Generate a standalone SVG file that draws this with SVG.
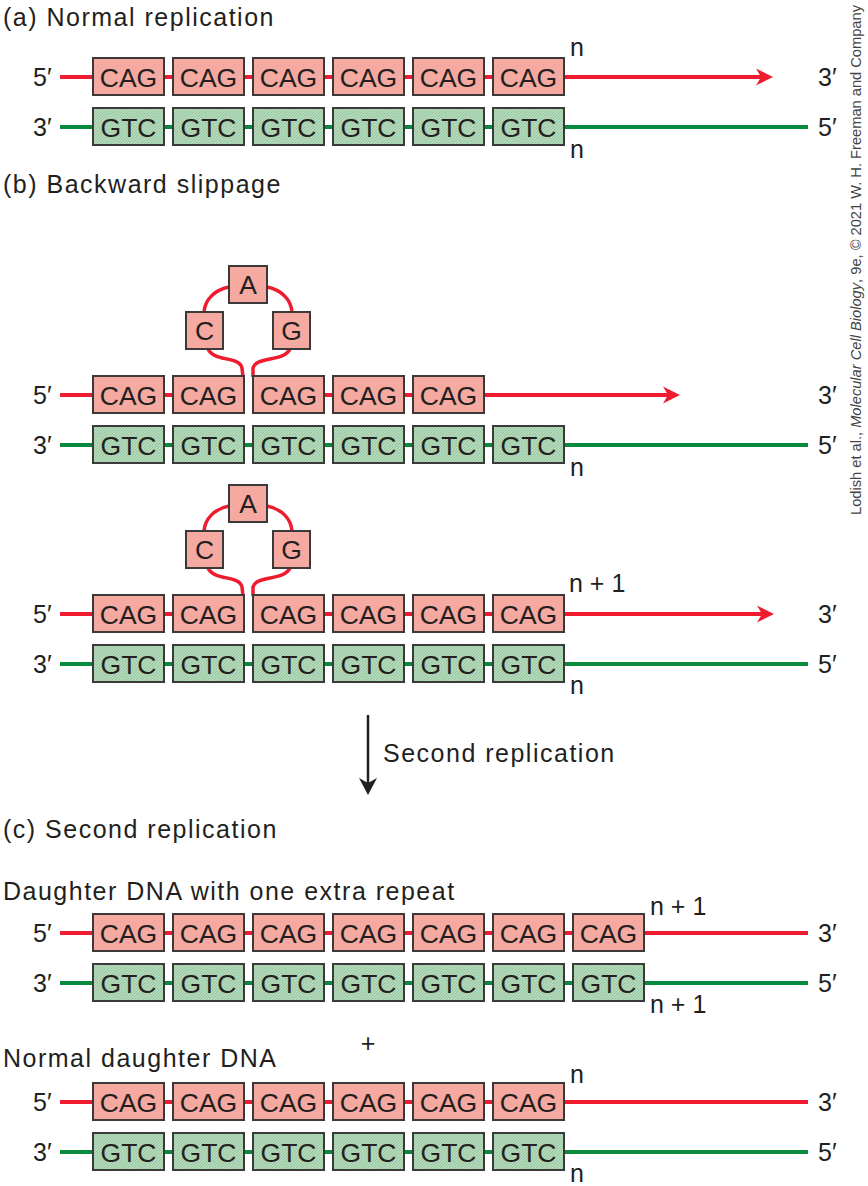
<svg xmlns="http://www.w3.org/2000/svg" width="868" height="1186" viewBox="0 0 868 1186">
<style>
text{font-family:"Liberation Sans",Arial,sans-serif;fill:#231f20}
.t{font-size:25px;letter-spacing:1.5px}
.l{font-size:25px}
.bt{font-size:26.5px;text-anchor:middle}
.cag{fill:#f6a9a1;stroke:#3a3a3a;stroke-width:2}
.gtc{fill:url(#hatch);stroke:#3a3a3a;stroke-width:2}
.red{stroke:#ee1c2e;stroke-width:4;fill:none}
.grn{stroke:#07893e;stroke-width:4;fill:none}
.loop{stroke:#ee1c2e;stroke-width:3.5;fill:none}
</style>
<defs>
<pattern id="hatch" width="3" height="3" patternUnits="userSpaceOnUse">
<rect width="3" height="3" fill="#b0dcb7"/>
<path d="M0,3 L3,0 M-1,1 L1,-1 M2,4 L4,2" stroke="#93ad99" stroke-width="0.6"/>
</pattern>
<marker id="ra" viewBox="-5 -9 17 18" refX="0" refY="0" markerWidth="17" markerHeight="18" markerUnits="userSpaceOnUse" orient="auto">
<path d="M-5,-8.5 L12,0 L-5,8.5 L0,0 Z" fill="#ee1c2e"/>
</marker>
<marker id="ka" viewBox="-5 -9 17 18" refX="0" refY="0" markerWidth="17" markerHeight="18" markerUnits="userSpaceOnUse" orient="auto">
<path d="M-5,-9 L12,0 L-5,9 L0,0 Z" fill="#231f20"/>
</marker>
</defs>
<rect width="868" height="1186" fill="#fff"/>

<g id="labels">
<text class="t" x="3" y="26">(a) Normal replication</text>
<text class="t" x="3" y="193">(b) Backward slippage</text>
<text class="t" x="3" y="838">(c) Second replication</text>
<text class="t" x="3" y="900">Daughter DNA with one extra repeat</text>
<text class="t" x="3" y="1067">Normal daughter DNA</text>
<text class="t" x="383" y="762">Second replication</text>
<text x="368" y="1052" style="font-size:25px;text-anchor:middle;font-weight:300">+</text>

<text class="l" x="33" y="85.5">5′</text><text class="l" x="33" y="135.5">3′</text>
<text class="l" x="818" y="85.5">3′</text><text class="l" x="818" y="135.5">5′</text>
<text class="l" x="570" y="56">n</text><text class="l" x="570" y="158">n</text>

<text class="l" x="33" y="403.5">5′</text><text class="l" x="33" y="453.5">3′</text>
<text class="l" x="818" y="403.5">3′</text><text class="l" x="818" y="453.5">5′</text>
<text class="l" x="570" y="476">n</text>

<text class="l" x="33" y="622.5">5′</text><text class="l" x="33" y="672.5">3′</text>
<text class="l" x="818" y="622.5">3′</text><text class="l" x="818" y="672.5">5′</text>
<text class="l" x="569" y="592">n + 1</text><text class="l" x="570" y="694">n</text>

<text class="l" x="33" y="941.5">5′</text><text class="l" x="33" y="991.5">3′</text>
<text class="l" x="818" y="941.5">3′</text><text class="l" x="818" y="991.5">5′</text>
<text class="l" x="650" y="915">n + 1</text><text class="l" x="650" y="1013">n + 1</text>

<text class="l" x="33" y="1110.5">5′</text><text class="l" x="33" y="1160.5">3′</text>
<text class="l" x="818" y="1110.5">3′</text><text class="l" x="818" y="1160.5">5′</text>
<text class="l" x="570" y="1083">n</text><text class="l" x="570" y="1182">n</text>

<text transform="translate(861,515) rotate(-90)" style="font-size:14px;fill:#444" textLength="510" lengthAdjust="spacingAndGlyphs">Lodish et al., <tspan font-style="italic">Molecular Cell Biology</tspan>, 9e, © 2021 W. H. Freeman and Company</text>
</g>

<g id="connectors">
<line class="red" x1="60" y1="77" x2="761" y2="77" marker-end="url(#ra)"/>
<line class="grn" x1="60" y1="127" x2="808" y2="127"/>

<line class="red" x1="60" y1="395" x2="244" y2="395"/>
<line class="red" x1="253" y1="395" x2="668" y2="395" marker-end="url(#ra)"/>
<line class="grn" x1="60" y1="445" x2="808" y2="445"/>
<path class="loop" d="M229,287 C214,290 205,300 204,312"/>
<path class="loop" d="M267,287 C282,290 291,300 292,312"/>
<path class="loop" d="M208,349 C214,362 240,356 242,368 L243,377"/>
<path class="loop" d="M290,349 C284,362 256,356 253,368 L253,377"/>

<line class="red" x1="60" y1="614" x2="244" y2="614"/>
<line class="red" x1="253" y1="614" x2="762" y2="614" marker-end="url(#ra)"/>
<line class="grn" x1="60" y1="664" x2="808" y2="664"/>
<path class="loop" d="M229,506 C214,509 205,519 204,531"/>
<path class="loop" d="M267,506 C282,509 291,519 292,531"/>
<path class="loop" d="M208,568 C214,581 240,575 242,587 L243,596"/>
<path class="loop" d="M290,568 C284,581 256,575 253,587 L253,596"/>

<line x1="368" y1="715" x2="368" y2="783" stroke="#231f20" stroke-width="2.5" marker-end="url(#ka)"/>

<line class="red" x1="60" y1="933" x2="808" y2="933"/>
<line class="grn" x1="60" y1="983" x2="808" y2="983"/>
<line class="red" x1="60" y1="1102" x2="808" y2="1102"/>
<line class="grn" x1="60" y1="1152" x2="808" y2="1152"/>
</g>

<!-- (a) -->
<g id="a-cag1"><rect class="cag" x="93" y="58" width="71" height="37"/><text class="bt" x="128.5" y="86.5">CAG</text></g>
<g id="a-cag2"><rect class="cag" x="173" y="58" width="71" height="37"/><text class="bt" x="208.5" y="86.5">CAG</text></g>
<g id="a-cag3"><rect class="cag" x="253" y="58" width="71" height="37"/><text class="bt" x="288.5" y="86.5">CAG</text></g>
<g id="a-cag4"><rect class="cag" x="333" y="58" width="71" height="37"/><text class="bt" x="368.5" y="86.5">CAG</text></g>
<g id="a-cag5"><rect class="cag" x="413" y="58" width="71" height="37"/><text class="bt" x="448.5" y="86.5">CAG</text></g>
<g id="a-cag6"><rect class="cag" x="493" y="58" width="71" height="37"/><text class="bt" x="528.5" y="86.5">CAG</text></g>
<g id="a-gtc1"><rect class="gtc" x="93" y="108" width="71" height="37"/><text class="bt" x="128.5" y="136.5">GTC</text></g>
<g id="a-gtc2"><rect class="gtc" x="173" y="108" width="71" height="37"/><text class="bt" x="208.5" y="136.5">GTC</text></g>
<g id="a-gtc3"><rect class="gtc" x="253" y="108" width="71" height="37"/><text class="bt" x="288.5" y="136.5">GTC</text></g>
<g id="a-gtc4"><rect class="gtc" x="333" y="108" width="71" height="37"/><text class="bt" x="368.5" y="136.5">GTC</text></g>
<g id="a-gtc5"><rect class="gtc" x="413" y="108" width="71" height="37"/><text class="bt" x="448.5" y="136.5">GTC</text></g>
<g id="a-gtc6"><rect class="gtc" x="493" y="108" width="71" height="37"/><text class="bt" x="528.5" y="136.5">GTC</text></g>

<!-- (b) first -->
<g id="b1-A"><rect class="cag" x="229" y="266" width="38" height="37"/><text class="bt" x="248" y="294">A</text></g>
<g id="b1-C"><rect class="cag" x="186" y="312" width="37" height="37"/><text class="bt" x="204.5" y="340">C</text></g>
<g id="b1-G"><rect class="cag" x="273" y="312" width="37" height="37"/><text class="bt" x="291.5" y="340">G</text></g>
<g id="b1-cag1"><rect class="cag" x="93" y="376" width="71" height="37"/><text class="bt" x="128.5" y="404.5">CAG</text></g>
<g id="b1-cag2"><rect class="cag" x="173" y="376" width="71" height="37"/><text class="bt" x="208.5" y="404.5">CAG</text></g>
<g id="b1-cag3"><rect class="cag" x="253" y="376" width="71" height="37"/><text class="bt" x="288.5" y="404.5">CAG</text></g>
<g id="b1-cag4"><rect class="cag" x="333" y="376" width="71" height="37"/><text class="bt" x="368.5" y="404.5">CAG</text></g>
<g id="b1-cag5"><rect class="cag" x="413" y="376" width="71" height="37"/><text class="bt" x="448.5" y="404.5">CAG</text></g>
<g id="b1-gtc1"><rect class="gtc" x="93" y="426" width="71" height="37"/><text class="bt" x="128.5" y="454.5">GTC</text></g>
<g id="b1-gtc2"><rect class="gtc" x="173" y="426" width="71" height="37"/><text class="bt" x="208.5" y="454.5">GTC</text></g>
<g id="b1-gtc3"><rect class="gtc" x="253" y="426" width="71" height="37"/><text class="bt" x="288.5" y="454.5">GTC</text></g>
<g id="b1-gtc4"><rect class="gtc" x="333" y="426" width="71" height="37"/><text class="bt" x="368.5" y="454.5">GTC</text></g>
<g id="b1-gtc5"><rect class="gtc" x="413" y="426" width="71" height="37"/><text class="bt" x="448.5" y="454.5">GTC</text></g>
<g id="b1-gtc6"><rect class="gtc" x="493" y="426" width="71" height="37"/><text class="bt" x="528.5" y="454.5">GTC</text></g>

<!-- (b) second -->
<g id="b2-A"><rect class="cag" x="229" y="485" width="38" height="37"/><text class="bt" x="248" y="513">A</text></g>
<g id="b2-C"><rect class="cag" x="186" y="531" width="37" height="37"/><text class="bt" x="204.5" y="559">C</text></g>
<g id="b2-G"><rect class="cag" x="273" y="531" width="37" height="37"/><text class="bt" x="291.5" y="559">G</text></g>
<g id="b2-cag1"><rect class="cag" x="93" y="595" width="71" height="37"/><text class="bt" x="128.5" y="623.5">CAG</text></g>
<g id="b2-cag2"><rect class="cag" x="173" y="595" width="71" height="37"/><text class="bt" x="208.5" y="623.5">CAG</text></g>
<g id="b2-cag3"><rect class="cag" x="253" y="595" width="71" height="37"/><text class="bt" x="288.5" y="623.5">CAG</text></g>
<g id="b2-cag4"><rect class="cag" x="333" y="595" width="71" height="37"/><text class="bt" x="368.5" y="623.5">CAG</text></g>
<g id="b2-cag5"><rect class="cag" x="413" y="595" width="71" height="37"/><text class="bt" x="448.5" y="623.5">CAG</text></g>
<g id="b2-cag6"><rect class="cag" x="493" y="595" width="71" height="37"/><text class="bt" x="528.5" y="623.5">CAG</text></g>
<g id="b2-gtc1"><rect class="gtc" x="93" y="645" width="71" height="37"/><text class="bt" x="128.5" y="673.5">GTC</text></g>
<g id="b2-gtc2"><rect class="gtc" x="173" y="645" width="71" height="37"/><text class="bt" x="208.5" y="673.5">GTC</text></g>
<g id="b2-gtc3"><rect class="gtc" x="253" y="645" width="71" height="37"/><text class="bt" x="288.5" y="673.5">GTC</text></g>
<g id="b2-gtc4"><rect class="gtc" x="333" y="645" width="71" height="37"/><text class="bt" x="368.5" y="673.5">GTC</text></g>
<g id="b2-gtc5"><rect class="gtc" x="413" y="645" width="71" height="37"/><text class="bt" x="448.5" y="673.5">GTC</text></g>
<g id="b2-gtc6"><rect class="gtc" x="493" y="645" width="71" height="37"/><text class="bt" x="528.5" y="673.5">GTC</text></g>

<!-- (c) extra repeat -->
<g id="c1-cag1"><rect class="cag" x="93" y="914" width="71" height="37"/><text class="bt" x="128.5" y="942.5">CAG</text></g>
<g id="c1-cag2"><rect class="cag" x="173" y="914" width="71" height="37"/><text class="bt" x="208.5" y="942.5">CAG</text></g>
<g id="c1-cag3"><rect class="cag" x="253" y="914" width="71" height="37"/><text class="bt" x="288.5" y="942.5">CAG</text></g>
<g id="c1-cag4"><rect class="cag" x="333" y="914" width="71" height="37"/><text class="bt" x="368.5" y="942.5">CAG</text></g>
<g id="c1-cag5"><rect class="cag" x="413" y="914" width="71" height="37"/><text class="bt" x="448.5" y="942.5">CAG</text></g>
<g id="c1-cag6"><rect class="cag" x="493" y="914" width="71" height="37"/><text class="bt" x="528.5" y="942.5">CAG</text></g>
<g id="c1-cag7"><rect class="cag" x="573" y="914" width="71" height="37"/><text class="bt" x="608.5" y="942.5">CAG</text></g>
<g id="c1-gtc1"><rect class="gtc" x="93" y="964" width="71" height="37"/><text class="bt" x="128.5" y="992.5">GTC</text></g>
<g id="c1-gtc2"><rect class="gtc" x="173" y="964" width="71" height="37"/><text class="bt" x="208.5" y="992.5">GTC</text></g>
<g id="c1-gtc3"><rect class="gtc" x="253" y="964" width="71" height="37"/><text class="bt" x="288.5" y="992.5">GTC</text></g>
<g id="c1-gtc4"><rect class="gtc" x="333" y="964" width="71" height="37"/><text class="bt" x="368.5" y="992.5">GTC</text></g>
<g id="c1-gtc5"><rect class="gtc" x="413" y="964" width="71" height="37"/><text class="bt" x="448.5" y="992.5">GTC</text></g>
<g id="c1-gtc6"><rect class="gtc" x="493" y="964" width="71" height="37"/><text class="bt" x="528.5" y="992.5">GTC</text></g>
<g id="c1-gtc7"><rect class="gtc" x="573" y="964" width="71" height="37"/><text class="bt" x="608.5" y="992.5">GTC</text></g>

<!-- (c) normal -->
<g id="c2-cag1"><rect class="cag" x="93" y="1083" width="71" height="37"/><text class="bt" x="128.5" y="1111.5">CAG</text></g>
<g id="c2-cag2"><rect class="cag" x="173" y="1083" width="71" height="37"/><text class="bt" x="208.5" y="1111.5">CAG</text></g>
<g id="c2-cag3"><rect class="cag" x="253" y="1083" width="71" height="37"/><text class="bt" x="288.5" y="1111.5">CAG</text></g>
<g id="c2-cag4"><rect class="cag" x="333" y="1083" width="71" height="37"/><text class="bt" x="368.5" y="1111.5">CAG</text></g>
<g id="c2-cag5"><rect class="cag" x="413" y="1083" width="71" height="37"/><text class="bt" x="448.5" y="1111.5">CAG</text></g>
<g id="c2-cag6"><rect class="cag" x="493" y="1083" width="71" height="37"/><text class="bt" x="528.5" y="1111.5">CAG</text></g>
<g id="c2-gtc1"><rect class="gtc" x="93" y="1133" width="71" height="37"/><text class="bt" x="128.5" y="1161.5">GTC</text></g>
<g id="c2-gtc2"><rect class="gtc" x="173" y="1133" width="71" height="37"/><text class="bt" x="208.5" y="1161.5">GTC</text></g>
<g id="c2-gtc3"><rect class="gtc" x="253" y="1133" width="71" height="37"/><text class="bt" x="288.5" y="1161.5">GTC</text></g>
<g id="c2-gtc4"><rect class="gtc" x="333" y="1133" width="71" height="37"/><text class="bt" x="368.5" y="1161.5">GTC</text></g>
<g id="c2-gtc5"><rect class="gtc" x="413" y="1133" width="71" height="37"/><text class="bt" x="448.5" y="1161.5">GTC</text></g>
<g id="c2-gtc6"><rect class="gtc" x="493" y="1133" width="71" height="37"/><text class="bt" x="528.5" y="1161.5">GTC</text></g>
</svg>
